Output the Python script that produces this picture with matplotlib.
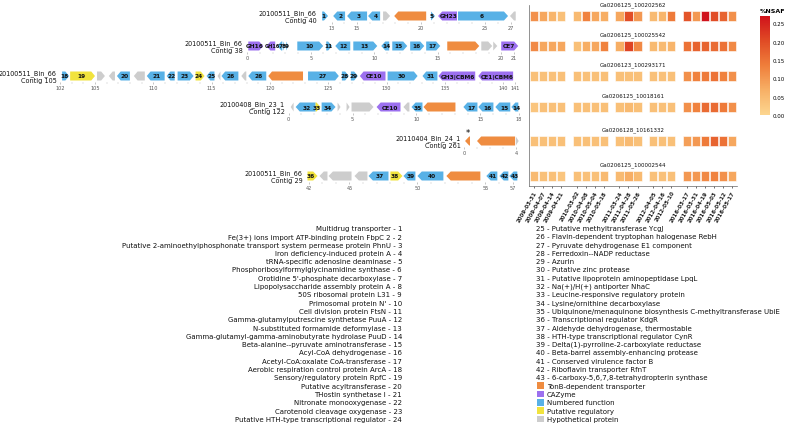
"""
Gene neighbourhoods of six contigs with the %NSAF heatmap of the
highlighted protein over the sampling dates, plus the gene-name key.
Saves out.png (787 x 427 px).
"""

import matplotlib
matplotlib.use("Agg")
import matplotlib.pyplot as plt
from matplotlib.patches import Polygon, Rectangle
from matplotlib.colors import LinearSegmentedColormap, Normalize
from matplotlib.cm import ScalarMappable
from matplotlib.ticker import FixedLocator, MultipleLocator

W, H = 787, 427

COLORS = {
    "num":  "#58b1e6",
    "tonb": "#ef8c40",
    "caz":  "#9c70ef",
    "reg":  "#f1e33d",
    "hyp":  "#cdcdcd",
}

# ---- gene tracks: (start kb, end kb, strand, label, kind) ----
CONTIG_40 = [
    (12.27, 12.73, 1, "1", "num"),
    (13.13, 14.06, -1, "2", "num"),
    (14.22, 15.78, -1, "3", "num"),
    (15.86, 16.80, -1, "4", "num"),
    (17.03, 17.58, 1, "", "hyp"),
    (17.90, 20.40, -1, "", "tonb"),
    (20.78, 21.09, 1, "5", "num"),
    (21.33, 22.81, -1, "GH23", "caz"),
    (22.89, 26.80, 1, "6", "num"),
    (26.95, 27.40, -1, "", "hyp"),
]
CONTIG_38 = [
    (0.08, 1.26, 1, "GH16", "caz"),
    (1.50, 2.20, -1, "GH16", "caz"),
    (2.36, 2.76, -1, "7", "num"),
    (2.83, 2.99, 1, "8", "num"),
    (3.07, 3.23, 1, "9", "num"),
    (3.94, 5.98, 1, "10", "num"),
    (6.22, 6.69, 1, "11", "num"),
    (6.93, 8.11, -1, "12", "num"),
    (8.35, 10.24, 1, "13", "num"),
    (10.55, 11.18, -1, "14", "num"),
    (11.42, 12.60, 1, "15", "num"),
    (12.83, 13.94, 1, "16", "num"),
    (14.09, 15.20, 1, "17", "num"),
    (15.75, 18.27, 1, "", "tonb"),
    (18.43, 19.29, 1, "", "hyp"),
    (19.37, 19.69, 1, "", "hyp"),
    (20.00, 21.34, 1, "CE7", "caz"),
]
CONTIG_105 = [
    (102.18, 102.78, 1, "18", "num"),
    (102.87, 105.00, 1, "19", "reg"),
    (105.17, 105.85, 1, "", "hyp"),
    (106.19, 106.71, -1, "", "hyp"),
    (106.88, 107.99, -1, "20", "num"),
    (108.33, 109.27, -1, "", "hyp"),
    (109.44, 110.97, -1, "21", "num"),
    (111.14, 111.83, -1, "22", "num"),
    (112.08, 113.45, 1, "23", "num"),
    (113.62, 114.39, 1, "24", "reg"),
    (114.56, 115.24, -1, "25", "num"),
    (115.50, 115.75, -1, "", "hyp"),
    (115.84, 117.29, -1, "26", "num"),
    (117.54, 117.97, -1, "", "hyp"),
    (118.14, 119.68, -1, "26", "num"),
    (119.85, 122.83, -1, "", "tonb"),
    (123.26, 125.90, 1, "27", "num"),
    (126.16, 126.76, 1, "28", "num"),
    (126.93, 127.53, 1, "29", "num"),
    (127.70, 129.90, -1, "CE10", "caz"),
    (130.08, 132.65, 1, "30", "num"),
    (133.07, 134.35, -1, "31", "num"),
    (134.44, 137.59, -1, "GH3|CBM6", "caz"),
    (137.85, 140.84, -1, "CE1|CBM6", "caz"),
]
CONTIG_122 = [
    (0.16, 0.39, -1, "", "hyp"),
    (0.55, 2.11, -1, "32", "num"),
    (2.11, 2.50, 1, "33", "reg"),
    (2.58, 3.67, 1, "34", "num"),
    (3.83, 4.06, 1, "", "hyp"),
    (4.53, 4.77, 1, "", "hyp"),
    (4.92, 6.64, 1, "", "hyp"),
    (6.88, 8.75, -1, "CE10", "caz"),
    (8.98, 9.45, -1, "", "hyp"),
    (9.61, 10.47, -1, "35", "num"),
    (10.55, 13.05, -1, "", "tonb"),
    (13.67, 14.77, -1, "17", "num"),
    (14.84, 16.02, -1, "16", "num"),
    (16.17, 17.34, -1, "15", "num"),
    (17.42, 17.97, -1, "14", "num"),
]
CONTIG_261 = [
    (0.08, 0.46, -1, "", "tonb"),
    (1.00, 3.92, -1, "", "tonb"),
    (3.98, 4.20, 1, "", "hyp"),
]
CONTIG_29 = [
    (41.91, 42.65, 1, "36", "reg"),
    (42.79, 43.38, -1, "", "hyp"),
    (43.46, 45.15, -1, "", "hyp"),
    (45.37, 46.32, -1, "", "hyp"),
    (46.40, 47.87, -1, "37", "num"),
    (48.01, 48.90, 1, "38", "reg"),
    (48.97, 49.85, -1, "39", "num"),
    (50.00, 51.91, -1, "40", "num"),
    (52.13, 54.63, -1, "", "tonb"),
    (55.07, 55.88, -1, "41", "num"),
    (56.03, 56.69, -1, "42", "num"),
    (56.76, 57.35, -1, "43", "num"),
]

TRACK_GENES = [CONTIG_40, CONTIG_38, CONTIG_105, CONTIG_122, CONTIG_261, CONTIG_29]
TRACK_NAMES = [
    "20100511_Bin_66\nContig 40",
    "20100511_Bin_66\nContig 38",
    "20100511_Bin_66\nContig 105",
    "20100408_Bin_23_1\nContig 122",
    "20110404_Bin_24_1\nContig 261",
    "20100511_Bin_66\nContig 29",
]
TRACK_XLIM = [(12.1, 27.5), (-0.1, 21.4), (102.0, 141.0), (-0.05, 18.1), (0.0, 4.3), (41.8, 57.4)]
TRACK_TICKS = [
    [13, 15, 20, 25, 27],
    [0, 5, 10, 15, 20, 21],
    [102, 105, 110, 115, 120, 125, 130, 135, 140, 141],
    [0, 5, 10, 15, 18],
    [0, 4],
    [42, 45, 50, 55, 57],
]

# ---- heatmap (%NSAF) ----
DATES = [
    "2009-03-31", "2009-04-07", "2009-04-14", "2009-04-21",
    "2010-03-02", "2010-04-08", "2010-05-04", "2010-05-18",
    "2011-03-24", "2011-04-28", "2011-05-26",
    "2012-04-05", "2012-04-16", "2012-05-10",
    "2016-03-17", "2016-03-31", "2016-04-19", "2016-05-03", "2016-05-12", "2016-05-17",
]
DATE_GROUPS = [4, 4, 3, 3, 6]
HEAT_TITLES = [
    "Ga0206125_100202562", "Ga0206125_100025542", "Ga0206123_100293171",
    "Ga0206125_10018161", "Ga0206128_10161332", "Ga0206125_100002544",
]
NSAF_1 = [0.11, 0.08, 0.06, 0.04, 0.05, 0.13, 0.08, 0.07, 0.08, 0.20, 0.10, 0.05, 0.06, 0.14, 0.19, 0.10, 0.27, 0.20, 0.17, 0.11]
NSAF_2 = [0.12, 0.08, 0.08, 0.08, 0.04, 0.07, 0.08, 0.13, 0.07, 0.21, 0.12, 0.05, 0.05, 0.06, 0.15, 0.17, 0.17, 0.16, 0.15, 0.12]
NSAF_3 = [0.04, 0.04, 0.04, 0.04, 0.04, 0.04, 0.04, 0.04, 0.04, 0.04, 0.04, 0.04, 0.04, 0.04, 0.11, 0.13, 0.14, 0.15, 0.13, 0.11]
NSAF_4 = [0.03, 0.04, 0.04, 0.04, 0.04, 0.04, 0.04, 0.04, 0.04, 0.05, 0.04, 0.04, 0.04, 0.04, 0.11, 0.13, 0.16, 0.16, 0.14, 0.11]
NSAF_5 = [0.04, 0.04, 0.04, 0.04, 0.04, 0.04, 0.04, 0.04, 0.04, 0.05, 0.04, 0.04, 0.04, 0.04, 0.09, 0.10, 0.14, 0.17, 0.15, 0.08]
NSAF_6 = [0.05, 0.04, 0.04, 0.03, 0.04, 0.04, 0.04, 0.05, 0.05, 0.07, 0.05, 0.04, 0.04, 0.04, 0.10, 0.10, 0.12, 0.13, 0.11, 0.08]
NSAF_ROWS = [NSAF_1, NSAF_2, NSAF_3, NSAF_4, NSAF_5, NSAF_6]
CBAR_TICKS = [0.00, 0.05, 0.10, 0.15, 0.20, 0.25]

# ---- gene key ----
LEFT_NAMES = [
    "Multidrug transporter",
    "Fe(3+) ions import ATP-binding protein FbpC 2",
    "Putative 2-aminoethylphosphonate transport system permease protein PhnU",
    "Iron deficiency-induced protein A",
    "tRNA-specific adenosine deaminase",
    "Phosphoribosylformylglycinamidine synthase",
    "Orotidine 5'-phosphate decarboxylase",
    "Lipopolysaccharide assembly protein A",
    "50S ribosomal protein L31",
    "Primosomal protein N'",
    "Cell division protein FtsN",
    "Gamma-glutamylputrescine synthetase PuuA",
    "N-substituted formamide deformylase",
    "Gamma-glutamyl-gamma-aminobutyrate hydrolase PuuD",
    "Beta-alanine--pyruvate aminotransferase",
    "Acyl-CoA dehydrogenase",
    "Acetyl-CoA:oxalate CoA-transferase",
    "Aerobic respiration control protein ArcA",
    "Sensory/regulatory protein RpfC",
    "Putative acyltransferase",
    "THostin synthetase I",
    "Nitronate monooxygenase",
    "Carotenoid cleavage oxygenase",
    "Putative HTH-type transcriptional regulator",
]
RIGHT_NAMES = [
    "Putative methyltransferase YcgJ",
    "Flavin-dependent tryptophan halogenase RebH",
    "Pyruvate dehydrogenase E1 component",
    "Ferredoxin--NADP reductase",
    "Azurin",
    "Putative zinc protease",
    "Putative lipoprotein aminopeptidase LpqL",
    "Na(+)/H(+) antiporter NhaC",
    "Leucine-responsive regulatory protein",
    "Lysine/ornithine decarboxylase",
    "Ubiquinone/menaquinone biosynthesis C-methyltransferase UbiE",
    "Transcriptional regulator KdgR",
    "Aldehyde dehydrogenase, thermostable",
    "HTH-type transcriptional regulator CynR",
    "Delta(1)-pyrroline-2-carboxylate reductase",
    "Beta-barrel assembly-enhancing protease",
    "Conserved virulence factor B",
    "Riboflavin transporter RfnT",
    "6-carboxy-5,6,7,8-tetrahydropterin synthase",
]
KEY_KINDS = ["tonb", "caz", "num", "reg", "hyp"]
KEY_LABELS = ["TonB-dependent transporter", "CAZyme", "Numbered function",
              "Putative regulatory", "Hypothetical protein"]

# ---- layout (pixels) ----
TRACK_Y = [17, 47, 77, 108, 142, 177]
TRACK_PX = [(320, 517), (246, 519), (60, 515), (288, 520), (464, 520), (306, 518)]
HEAD_KB = 0.32


def px_axes(fig, x0, y0, x1, y1):
    return fig.add_axes([x0 / W, 1 - y1 / H, (x1 - x0) / W, (y1 - y0) / H])


def draw_gene(ax, s, e, strand, label, kind):
    h = min(HEAD_KB, e - s)
    hh = 0.75
    if strand > 0:
        pts = [(s, -hh), (e - h, -hh), (e, 0), (e - h, hh), (s, hh)]
    else:
        pts = [(e, -hh), (s + h, -hh), (s, 0), (s + h, hh), (e, hh)]
    ax.add_patch(Polygon(pts, closed=True, facecolor=COLORS[kind], edgecolor="none"))
    if label:
        fs = 4.2 if len(label) < 4 or e - s > 1.0 else 3.6
        ax.text((s + e) / 2 - strand * h * 0.3, 0, label, ha="center", va="center",
                fontsize=fs, fontweight="bold", color="#111111", clip_on=False)


fig = plt.figure(figsize=(W / 100, H / 100), dpi=100, facecolor="white")

# overlay for the gene key
ov = fig.add_axes([0, 0, 1, 1])
ov.set_xlim(0, W)
ov.set_ylim(H, 0)
ov.axis("off")

row_h = 8.3
y_top = 229
key_fs = 5.05
for i, name in enumerate(LEFT_NAMES):
    ov.text(402, y_top + i * row_h, f"{name} - {i + 1}", ha="right", va="center",
            fontsize=key_fs, color="#111111")
for i, name in enumerate(RIGHT_NAMES):
    ov.text(536, y_top + i * row_h, f"{i + 25} - {name}", ha="left", va="center",
            fontsize=key_fs, color="#111111")
for j, (kind, lab) in enumerate(zip(KEY_KINDS, KEY_LABELS)):
    y = y_top + (len(RIGHT_NAMES) + j) * row_h
    ov.add_patch(Rectangle((537, y - 3.3), 6.6, 6.6, facecolor=COLORS[kind], edgecolor="none"))
    ov.text(547, y, lab, ha="left", va="center", fontsize=key_fs, color="#111111")

# gene tracks
for genes, name, xlim, ticks, yc, (x0, x1) in zip(TRACK_GENES, TRACK_NAMES, TRACK_XLIM,
                                                   TRACK_TICKS, TRACK_Y, TRACK_PX):
    ax = px_axes(fig, x0, yc - 6, x1, yc + 6)
    ax.set_xlim(*xlim)
    ax.set_ylim(-1, 1)
    ax.patch.set_alpha(0)
    for sp in ax.spines.values():
        sp.set_visible(False)
    ax.set_yticks([])
    ax.xaxis.set_major_locator(FixedLocator(ticks))
    ax.xaxis.set_minor_locator(MultipleLocator(1))
    ax.tick_params(axis="x", which="major", length=1.5, width=0.4, color="#999999",
                   labelsize=3.6, labelcolor="#555555", pad=0.8)
    ax.tick_params(axis="x", which="minor", length=1.2, width=0.3, color="#bbbbbb")
    for g in genes:
        draw_gene(ax, *g)
    ax.annotate(name, xy=(0, 0.5), xycoords="axes fraction", xytext=(-2.5, 0),
                textcoords="offset points", ha="right", va="center",
                fontsize=4.7, color="#111111", linespacing=1.15)

# star above the first TonB gene on contig 261
ax261 = fig.axes[1 + TRACK_GENES.index(CONTIG_261)]
s, e = CONTIG_261[0][:2]
ax261.text((s + e) / 2, 1.35, "*", ha="center", va="center", fontsize=6, clip_on=False)

# heatmap
cmap = LinearSegmentedColormap.from_list(
    "nsaf", ["#fcd690", "#f7b066", "#ef7e3b", "#e04b25", "#d0121b"])
norm = Normalize(vmin=0, vmax=0.27)

xpos = []
x = 0.0
for n in DATE_GROUPS:
    for _ in range(n):
        xpos.append(x)
        x += 1
    x += 0.75

hax = px_axes(fig, 529, 6, 737, 187)
hax.set_ylim(187, 6)
hax.set_xlim(xpos[0] - 0.55, xpos[-1] + 0.55)
for vals, yc, title in zip(NSAF_ROWS, TRACK_Y, HEAT_TITLES):
    hax.bar(xpos, 10, bottom=yc - 5, width=0.92, color=cmap(norm(vals)),
            edgecolor="white", linewidth=0.4)
    hax.text((xpos[0] + xpos[-1]) / 2, yc - 12, title, ha="center", va="center",
             fontsize=4, color="#111111")
for side in ("top", "right"):
    hax.spines[side].set_visible(False)
for side in ("left", "bottom"):
    hax.spines[side].set_color("#666666")
    hax.spines[side].set_linewidth(0.5)
hax.set_yticks([])
hax.set_xticks(xpos)
hax.set_xticklabels(DATES, rotation=60, ha="right", rotation_mode="anchor",
                    fontsize=4, fontweight="bold", color="#222222")
hax.tick_params(axis="x", length=1.5, width=0.4, pad=1)

# colorbar
cax = px_axes(fig, 760, 17, 770, 116)
cb = fig.colorbar(ScalarMappable(norm=norm, cmap=cmap), cax=cax, ticks=CBAR_TICKS)
cb.outline.set_visible(False)
cb.ax.tick_params(labelsize=4, length=0, pad=2)
cb.ax.set_yticklabels([f"{t:.2f}" for t in CBAR_TICKS])
cax.set_title("%NSAF", fontsize=4.5, fontweight="bold", pad=3, loc="left")

fig.savefig("out.png", dpi=100, facecolor="white")
